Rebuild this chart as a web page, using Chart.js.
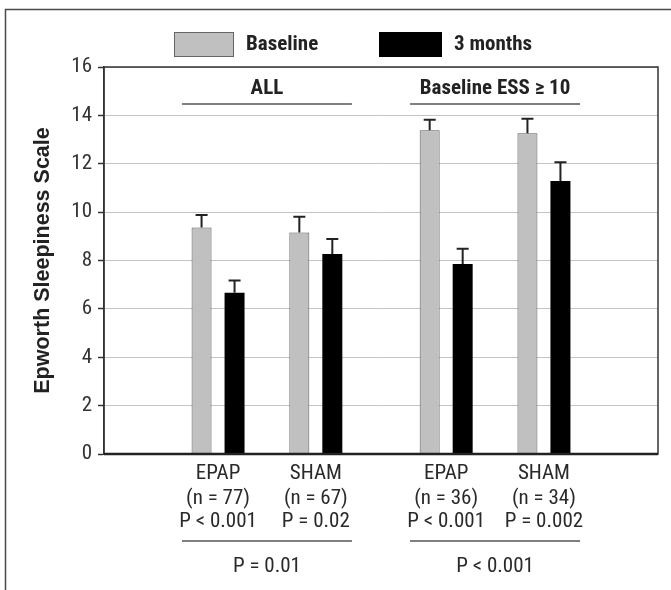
<!DOCTYPE html>
<html><head><meta charset="utf-8">
<script src="https://cdn.jsdelivr.net/npm/chart.js@4.4.1/dist/chart.umd.min.js"></script>
<style>html,body{margin:0;padding:0;background:#fff}#wrap{width:671px;height:590px;position:relative}canvas{display:block}</style>
</head><body><div id="wrap"><canvas id="c" width="671" height="590"></canvas></div>
<script>
// ---- data ----
const categories = ['EPAP', 'SHAM', 'EPAP', 'SHAM'];
const sampleSizes = [77, 67, 36, 34];
const withinP = ['P < 0.001', 'P = 0.02', 'P < 0.001', 'P = 0.002'];
const panelNames = ['ALL', 'Baseline ESS \u2265 10'];
const betweenP = ['P = 0.01', 'P < 0.001'];
const seriesNames = ['Baseline', '3 months'];
const baseline = [9.36, 9.16, 13.38, 13.26];
const baselineErr = [0.52, 0.65, 0.44, 0.60];
const months3 = [6.67, 8.27, 7.86, 11.29];
const months3Err = [0.50, 0.62, 0.63, 0.77];
const yTicks = [0, 2, 4, 6, 8, 10, 12, 14, 16];
const yTitle = 'Epworth Sleepiness Scale';

// ---- layout (category slots on the x axis) ----
const SLOT_COUNT = 17;
const groupSlots = [3, 6, 10, 13];
const labels = Array(SLOT_COUNT).fill('');
groupSlots.forEach((s, i) => labels[s] = categories[i]);
function spread(arr) { const out = Array(SLOT_COUNT).fill(null); groupSlots.forEach((s, i) => out[s] = arr[i]); return out; }

const NARROW = '"Roboto Condensed", "Liberation Sans Narrow", sans-serif';
const errors = [baselineErr, months3Err];

const framePlugin = {
  id: 'frame',
  beforeDraw(chart) {
    const ctx = chart.ctx;
    ctx.save();
    ctx.strokeStyle = '#4a4a4a'; ctx.lineWidth = 1.5;
    ctx.beginPath(); ctx.moveTo(5.5, 590); ctx.lineTo(5.5, 9.5); ctx.lineTo(671, 9.5); ctx.stroke();
    ctx.restore();
  }
};

const errorBarPlugin = {
  id: 'errbars',
  afterDatasetsDraw(chart) {
    const ctx = chart.ctx, y = chart.scales.y;
    ctx.save();
    ctx.strokeStyle = '#222'; ctx.lineWidth = 2;
    chart.data.datasets.forEach((ds, d) => {
      const meta = chart.getDatasetMeta(d);
      meta.data.forEach((el, i) => {
        const v = ds.data[i];
        if (v === null) return;
        const gi = groupSlots.indexOf(i);
        const top = y.getPixelForValue(v + errors[d][gi]);
        ctx.beginPath();
        ctx.moveTo(el.x, el.y); ctx.lineTo(el.x, top);
        ctx.moveTo(el.x - 6, top); ctx.lineTo(el.x + 6, top);
        ctx.stroke();
      });
    });
    const a = chart.chartArea;
    ctx.strokeStyle = '#333'; ctx.lineWidth = 1.5;
    ctx.strokeRect(a.left, a.top, a.right - a.left, a.bottom - a.top);
    ctx.strokeStyle = '#222'; ctx.lineWidth = 2.5;
    ctx.beginPath(); ctx.moveTo(a.left, a.bottom); ctx.lineTo(a.right, a.bottom); ctx.stroke();
    ctx.restore();
  }
};

const annotPlugin = {
  id: 'annot',
  afterDraw(chart) {
    const ctx = chart.ctx, x = chart.scales.x;
    ctx.save();
    // legend
    const legendBoxes = [[174, 60], [379, 63]];
    chart.data.datasets.forEach((ds, d) => {
      const [bx, bw] = legendBoxes[d];
      ctx.fillStyle = ds.backgroundColor; ctx.fillRect(bx, 32, bw, 25);
      ctx.strokeStyle = d === 0 ? '#666' : '#000'; ctx.lineWidth = 1;
      ctx.strokeRect(bx + 0.5, 32.5, bw - 1, 24);
      ctx.fillStyle = '#222'; ctx.font = 'bold 21px ' + NARROW;
      ctx.textAlign = 'left'; ctx.textBaseline = 'middle';
      ctx.fillText(ds.label, bx + bw + 12, 45);
    });
    const gx = groupSlots.map(s => x.getPixelForValue(s));
    ctx.textAlign = 'center'; ctx.textBaseline = 'middle';
    // group labels
    ctx.fillStyle = '#2a2a2a'; ctx.font = '21px ' + NARROW;
    gx.forEach((px, i) => {
      ctx.fillText(categories[i], px, 474);
      ctx.fillText('(n = ' + sampleSizes[i] + ')', px, 499);
      ctx.fillText(withinP[i], px, 522);
    });
    // panels
    panelNames.forEach((name, p) => {
      const pc = (gx[2 * p] + gx[2 * p + 1]) / 2;
      ctx.strokeStyle = '#555'; ctx.lineWidth = 1.5;
      ctx.beginPath();
      ctx.moveTo(pc - 85, 104); ctx.lineTo(pc + 85, 104);
      ctx.moveTo(pc - 85, 541); ctx.lineTo(pc + 85, 541);
      ctx.stroke();
      ctx.fillStyle = '#222'; ctx.font = 'bold 21px ' + NARROW;
      ctx.fillText(name, pc, 89);
      ctx.fillStyle = '#2a2a2a'; ctx.font = '21px ' + NARROW;
      ctx.fillText(betweenP[p], pc, 567);
    });
    ctx.restore();
  }
};

new Chart(document.getElementById('c'), {
  type: 'bar',
  data: {
    labels: labels,
    datasets: [
      { label: seriesNames[0], data: spread(baseline), backgroundColor: '#c0c0c0', borderColor: '#5a5a5a', borderWidth: 1,
        categoryPercentage: 2.025, barPercentage: 0.606 },
      { label: seriesNames[1], data: spread(months3), backgroundColor: '#000000', borderColor: '#000000', borderWidth: 0,
        categoryPercentage: 2.025, barPercentage: 0.606 }
    ]
  },
  options: {
    responsive: false, animation: false, devicePixelRatio: 1,
    layout: { padding: { left: 0, top: 67, right: 13, bottom: 136 } },
    plugins: { legend: { display: false }, tooltip: { enabled: false } },
    scales: {
      x: {
        type: 'category', offset: true,
        grid: { display: false, drawTicks: false },
        ticks: { display: false },
        border: { display: false },
        afterFit(s) { s.height = 0; }
      },
      y: {
        min: 0, max: 16,
        afterBuildTicks(s) { s.ticks = yTicks.map(v => ({ value: v })); },
        grid: { color: '#c4c4c4', lineWidth: 1, tickLength: 6, tickColor: '#333', tickWidth: 1.5 },
        border: { color: '#333', width: 1.5 },
        ticks: { font: { family: NARROW, size: 21 }, color: '#333', padding: 6 },
        title: { display: true, text: yTitle, color: '#222',
          font: { family: '"Liberation Sans", Arial, sans-serif', weight: 'bold', size: 21.5 },
          padding: { top: 30, bottom: 0 } },
        afterFit(s) { s.width = 104; }
      }
    }
  },
  plugins: [framePlugin, errorBarPlugin, annotPlugin]
});
</script>
</body></html>
